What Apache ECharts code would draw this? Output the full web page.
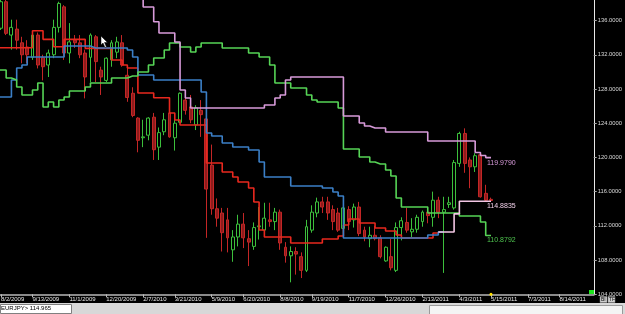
<!DOCTYPE html>
<html><head><meta charset="utf-8">
<script src="https://cdn.jsdelivr.net/npm/echarts@6/dist/echarts.min.js"></script>
<style>html,body{margin:0;padding:0;background:#000;overflow:hidden}#c{width:625px;height:314px}</style>
</head><body><div id="c"></div>
<script>
// ---- categories: weekly bars, first category = week of 7/26/2009 ----
const FIRST_WEEK = [2009, 6, 26];
const N_WEEKS = 114;
const tickLabels = ['8/2/2009','9/13/2009','11/1/2009','12/20/2009','2/7/2010','3/21/2010','5/9/2010','6/20/2010','8/8/2010','9/19/2010','11/7/2010','12/26/2010','2/13/2011','4/3/2011','5/15/2011','7/3/2011','8/14/2011'];
const yTicks = [104,108,112,116,120,124,128,132,136];

// ---- EUR/JPY weekly candles (index 0 = 7/26/2009) ----
const opens = [null,135.1,138.2,134.3,135.0,133.4,132.9,131.7,134.3,131.7,130.8,132.0,135.2,137.6,132.2,133.7,133.4,132.2,131.7,134.1,130.2,129.0,131.4,132.3,133.4,129.6,127.5,124.6,122.3,122.6,124.7,121.2,123.0,125.2,122.3,124.1,126.7,125.9,123.8,125.5,124.5,119.1,114.0,113.5,112.7,109.2,110.7,112.2,110.5,109.6,111.9,111.5,112.7,112.5,113.6,109.5,108.5,109.0,108.4,106.8,111.5,113.5,114.8,114.8,113.9,113.5,111.7,113.9,112.7,114.2,111.5,110.5,110.9,110.6,107.9,108.4,106.8,111.8,112.4,111.3,111.6,112.5,113.6,113.0,115.0,113.6,114.5,114.1,119.3,122.8,119.7,118.9,120.3,115.8,115.1];
const closes = [null,138.2,134.5,135.2,133.7,132.0,132.0,134.3,130.8,130.6,132.2,135.2,138.0,132.2,133.5,133.4,132.0,129.4,134.3,131.2,129.4,131.6,133.4,133.5,130.8,127.0,124.9,122.0,122.4,124.6,120.9,122.9,124.4,122.4,124.0,127.5,125.5,124.4,125.8,125.0,116.3,114.0,112.9,111.2,110.6,110.7,112.2,110.6,110.1,111.8,112.0,112.9,112.5,113.6,110.0,108.5,109.0,108.7,106.8,111.9,113.6,114.8,114.2,113.5,112.5,111.5,114.1,112.5,114.2,111.1,110.7,110.9,110.5,108.4,109.5,107.1,111.8,112.6,111.5,111.6,113.0,113.6,113.2,115.0,113.6,113.9,114.7,119.4,122.8,119.3,118.9,120.2,115.4,115.0,114.965];
const lows = [null,134.9,134.3,132.6,132.6,131.0,131.0,131.4,130.4,129.0,129.4,131.6,134.6,131.4,131.0,132.8,131.6,126.9,128.8,128.8,127.3,128.8,130.6,131.6,130.6,126.5,124.7,120.6,121.2,122.0,119.7,119.7,122.6,122.3,120.8,124.0,125.0,124.0,123.2,122.4,110.6,113.3,111.9,109.0,108.9,107.8,109.6,109.4,107.3,109.2,110.4,110.8,111.9,111.5,109.2,107.7,105.4,106.3,105.9,106.6,111.2,113.0,113.5,112.7,111.5,111.3,111.5,111.5,111.8,110.8,110.2,109.5,110.3,108.2,107.8,106.8,106.6,110.3,111.2,110.7,111.2,111.9,112.3,111.9,112.9,106.5,114.1,113.9,118.9,118.2,116.4,118.3,115.3,114.8,114.8];
const highs = [null,138.5,138.5,136.1,136.1,134.1,133.7,134.6,134.6,132.0,132.6,136.1,138.2,137.8,135.7,134.3,134.3,132.6,134.5,134.3,130.6,131.7,133.7,134.1,134.3,130.6,128.2,124.7,124.4,124.7,125.2,123.5,125.2,126.7,124.6,127.6,127.6,127.3,126.1,126.7,125.4,121.5,115.2,114.1,114.1,111.5,113.3,113.5,111.5,112.4,114.2,114.7,114.7,114.1,113.9,110.1,109.6,109.5,108.9,112.7,114.4,115.3,115.4,115.4,114.4,114.1,114.4,114.3,114.6,114.8,111.9,111.9,112.0,110.9,109.6,110.5,112.4,113.0,114.1,112.9,113.3,113.8,114.0,116.0,115.4,115.4,115.4,119.7,123.0,123.4,120.0,120.5,120.5,116.8,115.3];

// ---- step lines (index 0 = 7/26/2009 unless a start index is given) ----
const redLine = [132.82,132.82,132.82,132.82,132.82,132.82,132.82,134.81,134.81,133.80,133.80,132.94,132.94,133.80,133.80,133.80,133.80,132.75,132.75,132.75,132.75,132.75,131.38,131.38,130.80,130.45,130.45,127.53,127.53,127.53,126.98,126.98,126.98,125.19,124.37,123.79,123.79,123.79,123.79,123.79,119.35,119.35,119.35,118.29,118.29,117.71,117.12,117.12,116.42,114.79,111.52,110.70,110.70,110.70,110.70,110.70,109.99,109.99,109.99,109.99,109.99,109.99,110.46,110.46,110.46,110.81,112.10,112.80,112.80,112.33,112.33,112.33,111.75,111.75,111.40,111.40,110.93,110.58,110.58,110.58,110.58,110.58,110.58,111.16,111.16];
const blueLine = [127.06,127.06,127.06,129.05,130.45,130.80,131.73,131.73,131.73,131.73,131.73,131.73,131.73,133.02,133.02,133.02,133.02,133.02,132.79,132.79,132.79,132.79,132.79,132.79,132.79,132.55,131.73,129.63,129.63,129.63,129.05,129.05,129.05,129.05,129.05,129.05,129.05,129.05,129.05,127.64,122.85,122.50,122.50,121.68,121.68,121.22,121.22,121.22,120.86,120.86,119.46,117.71,117.71,117.71,117.71,117.71,116.66,116.66,116.66,116.66,116.66,116.66,116.42,116.42,115.96,115.49,110.58,110.58,110.58,110.58,110.58,110.58,110.58,110.58,110.58,110.58,110.58,110.58,110.58,110.58,110.58,110.58,110.93,110.93,111.28,111.28];
const greenLine = [130.21,130.21,129.28,129.05,128.23,127.29,127.29,127.88,128.70,125.89,126.47,125.89,126.71,127.06,127.76,127.76,127.76,128.23,128.70,128.70,128.70,128.70,129.28,129.28,129.28,129.51,129.51,129.98,129.98,130.80,131.62,131.62,132.55,133.37,133.37,132.90,132.90,132.32,132.90,133.37,133.37,133.37,133.37,132.79,132.79,132.79,132.79,132.79,132.20,132.20,131.73,131.73,130.80,128.70,128.70,128.70,128.11,128.11,128.11,127.29,126.71,126.47,126.47,126.47,126.47,125.77,120.98,120.98,120.98,120.05,120.05,119.46,119.23,119.23,118.53,117.83,115.25,114.20,114.20,114.20,114.20,114.20,113.50,113.50,113.50,113.50,113.50,113.50,113.15,113.15,113.15,113.15,112.45,110.8792,110.8792];
const pinkStart = 27;
const pinkLine = [139.2,137.58,137.58,135.86,134.54,134.54,134.54,133.49,127.88,126.94,125.77,125.77,125.77,125.77,125.77,125.77,125.77,125.77,125.77,125.77,125.77,125.77,125.77,125.77,126.12,126.12,126.94,127.29,129.05,129.40,129.40,129.40,129.40,129.40,129.40,129.40,129.40,129.40,129.40,124.84,124.84,124.84,124.02,123.67,123.44,123.44,123.44,122.97,122.97,122.97,122.97,122.97,122.97,122.97,122.97,121.92,121.92,121.92,121.92,121.92,121.92,121.92,121.92,121.92,120.57,120.22,119.979,119.979];
const lightStart = 84;
const lightLine = [111.28,111.28,111.28,113.40,114.8835,114.8835,114.8835,114.8835,114.8835,114.8835,114.8835];
const lastPrice = closes[closes.length - 1];

// ---- build ----
const categories = [];
for (let i = 0; i < N_WEEKS; i++) {
  const d = new Date(FIRST_WEEK[0], FIRST_WEEK[1], FIRST_WEEK[2] + 7 * i);
  categories.push((d.getMonth() + 1) + '/' + d.getDate() + '/' + d.getFullYear());
}
const pad = (start, arr) => Array(start).fill('-').concat(arr);
const candles = opens.map((o, i) => o == null ? '-' : [o, closes[i], lows[i], highs[i]]);
const FONT = 'Liberation Sans';
const showTick = (idx, val) => tickLabels.indexOf(val) >= 0;

function stepLine(name, data, color, width, endLbl) {
  const s = {
    name, type: 'line', data, step: 'end', symbol: 'none', z: 5,
    lineStyle: { color, width }, itemStyle: { color }, silent: true, connectNulls: false
  };
  if (endLbl) {
    s.endLabel = { show: true, color: endLbl, fontSize: 7, fontFamily: FONT, distance: 0, offset: [-4, 5],
      formatter: p => Number(Array.isArray(p.value) ? p.value[1] : p.value).toFixed(4) };
  }
  return s;
}

const chart = echarts.init(document.getElementById('c'), null, { renderer: 'canvas' });
chart.setOption({
  backgroundColor: '#000',
  animation: false,
  grid: { left: -7.03, top: 0, width: 600.78, height: 294.3, containLabel: false, outerBoundsMode: 'none' },
  xAxis: {
    type: 'category', data: categories, boundaryGap: true,
    axisLine: { show: true, lineStyle: { color: '#8a8a8a', width: 2 } },
    axisTick: { show: true, interval: showTick, alignWithLabel: true, length: 3, lineStyle: { color: '#bbb' } },
    axisLabel: { show: true, interval: showTick, align: 'left', margin: 2, fontSize: 6, color: '#e6e6e6', fontFamily: FONT, hideOverlap: false },
    splitLine: { show: false }
  },
  yAxis: {
    type: 'value', position: 'right', min: 104, max: 138.4, interval: 4, scale: true,
    axisLine: { show: true, lineStyle: { color: '#e8e8e8', width: 1 } },
    axisTick: { show: true, length: 3, lineStyle: { color: '#aaa' } },
    axisLabel: { show: true, margin: 4, fontSize: 5.8, color: '#dcdcdc', fontFamily: FONT, showMaxLabel: false,
      formatter: v => yTicks.indexOf(Math.round(v * 1000) / 1000) >= 0 ? v.toFixed(4) : '' },
    splitLine: { show: false }
  },
  series: [
    {
      name: 'EURJPY', type: 'candlestick', data: candles, barWidth: 3.4, z: 3, silent: true,
      itemStyle: { color: '#000000', color0: '#8e1c1c', borderColor: '#3cbf3c', borderColor0: '#c42626', borderWidth: 1 },
      markLine: {
        silent: true, symbol: ['none', 'none'], lineStyle: { opacity: 0 },
        data: [{ yAxis: lastPrice }],
        label: { show: true, position: 'end', distance: 1, formatter: p => Number(p.value).toFixed(4),
          backgroundColor: '#ffffff', color: '#000', fontSize: 5.8, fontFamily: FONT, padding: [1, 2, 0, 2],
          borderColor: '#999', borderWidth: 0.5 }
      },
      markPoint: {
        silent: true, symbol: 'circle', symbolSize: 3, itemStyle: { color: '#ffe000' },
        label: { show: false }, data: [{ coord: ['5/15/2011', 104] }]
      }
    },
    stepLine('Tenkan', redLine, '#e8281e', 1.6),
    stepLine('Kijun', blueLine, '#3b7fc6', 1.6),
    stepLine('SpanB', greenLine, '#56d456', 1.6, '#4fc44f'),
    stepLine('SpanA', pad(pinkStart, pinkLine), '#d79ad9', 1.6, '#d79ad9'),
    stepLine('Lag', pad(lightStart, lightLine), '#f2c6e4', 1.6, '#eecde6')
  ],
  graphic: [
    { type: 'rect', shape: { x: 0, y: 303, width: 625, height: 11 }, style: { fill: '#d8d8d8' }, silent: true },
    { type: 'rect', shape: { x: 0.5, y: 304.5, width: 71, height: 9 }, style: { fill: '#ffffff', stroke: '#808080', lineWidth: 1 }, silent: true },
    { type: 'text', x: 1, y: 305, style: { text: 'EURJPY> 114.965', fill: '#000', font: '6px Liberation Sans' }, silent: true },
    { type: 'rect', shape: { x: 429.5, y: 305.5, width: 193, height: 9 }, style: { fill: '#f4f4f4', stroke: '#9a9a9a', lineWidth: 1 }, silent: true },
    { type: 'rect', shape: { x: 589, y: 290, width: 5, height: 5 }, style: { fill: '#1ee61e' }, silent: true },
    { type: 'rect', shape: { x: 600, y: 296.5, width: 7, height: 6 }, style: { fill: '#cfcfcf', stroke: '#888', lineWidth: 0.5 }, silent: true },
    { type: 'text', x: 601, y: 297, style: { text: 'BI', fill: '#000', font: '5px Liberation Sans' }, silent: true },
    { type: 'rect', shape: { x: 608, y: 296.5, width: 7, height: 6 }, style: { fill: '#cfcfcf', stroke: '#888', lineWidth: 0.5 }, silent: true },
    { type: 'text', x: 609, y: 297, style: { text: 'TF', fill: '#000', font: '5px Liberation Sans' }, silent: true },
    { type: 'polygon', shape: { points: [[101, 36], [101, 45], [103, 43], [105, 47.5], [106.5, 47], [104.5, 42.5], [107.5, 42.5]] },
      style: { fill: '#ffffff', stroke: '#000', lineWidth: 0.5 }, silent: true, z: 100 }
  ]
});
</script></body></html>
